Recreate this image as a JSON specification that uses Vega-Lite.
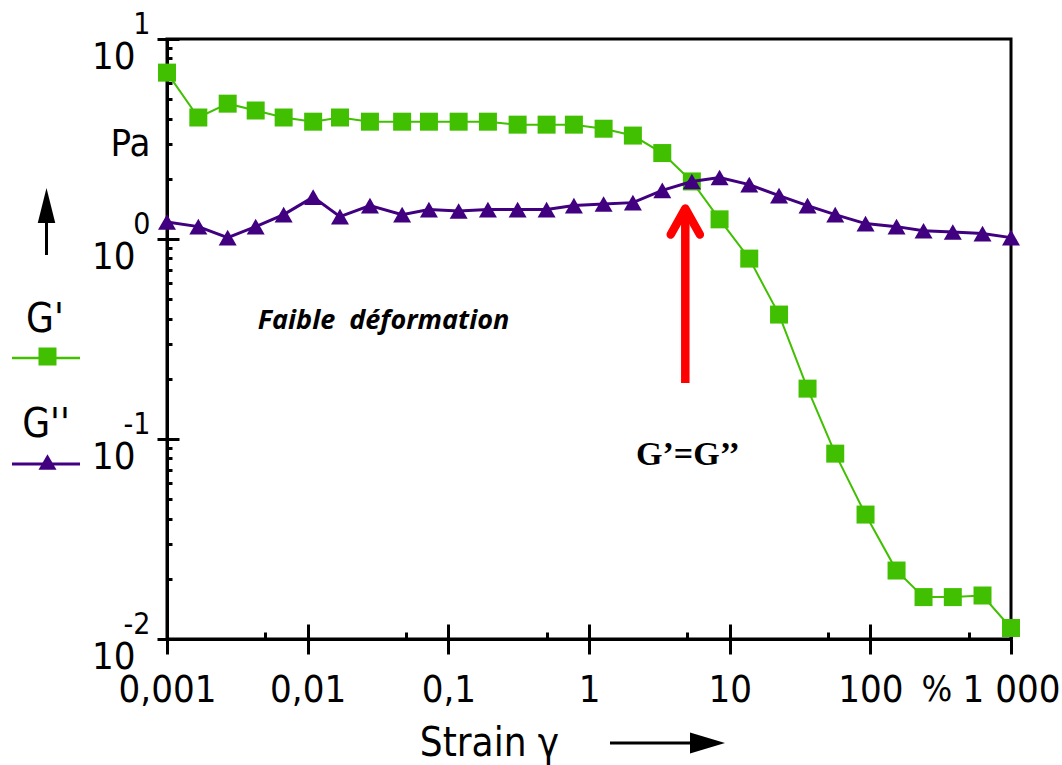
{
  "$schema": "https://vega.github.io/schema/vega-lite/v6.json",
  "autosize": {"type": "none"},
  "width": 844,
  "height": 600,
  "padding": {"left": 167, "top": 39, "right": 51, "bottom": 126},
  "background": "white",
  "datasets": {
    "gp": [
      {"strain": 0.001, "G": 6.79},
      {"strain": 0.00167, "G": 4.05},
      {"strain": 0.0027, "G": 4.75},
      {"strain": 0.00427, "G": 4.39},
      {"strain": 0.00675, "G": 4.05},
      {"strain": 0.01094, "G": 3.86},
      {"strain": 0.01697, "G": 4.05},
      {"strain": 0.02772, "G": 3.86},
      {"strain": 0.04694, "G": 3.86},
      {"strain": 0.07279, "G": 3.86},
      {"strain": 0.1184, "G": 3.86},
      {"strain": 0.1912, "G": 3.86},
      {"strain": 0.3109, "G": 3.73},
      {"strain": 0.4995, "G": 3.73},
      {"strain": 0.781, "G": 3.73},
      {"strain": 1.27, "G": 3.56},
      {"strain": 2.051, "G": 3.29},
      {"strain": 3.319, "G": 2.69},
      {"strain": 5.386, "G": 1.94},
      {"strain": 8.476, "G": 1.254},
      {"strain": 13.78, "G": 0.798},
      {"strain": 22.44, "G": 0.419},
      {"strain": 35.78, "G": 0.1786},
      {"strain": 56.3, "G": 0.0845},
      {"strain": 92.45, "G": 0.0419},
      {"strain": 153.6, "G": 0.022},
      {"strain": 238.9, "G": 0.0162},
      {"strain": 385.8, "G": 0.0162},
      {"strain": 627.3, "G": 0.0165},
      {"strain": 1000, "G": 0.01135}
    ],
    "gpp": [
      {"strain": 0.001, "G": 1.216},
      {"strain": 0.00167, "G": 1.153},
      {"strain": 0.0027, "G": 1.016},
      {"strain": 0.00427, "G": 1.153},
      {"strain": 0.00675, "G": 1.324},
      {"strain": 0.01094, "G": 1.62},
      {"strain": 0.01697, "G": 1.294},
      {"strain": 0.02772, "G": 1.469},
      {"strain": 0.04694, "G": 1.324},
      {"strain": 0.07279, "G": 1.403},
      {"strain": 0.1184, "G": 1.38},
      {"strain": 0.1912, "G": 1.403},
      {"strain": 0.3109, "G": 1.403},
      {"strain": 0.4995, "G": 1.403},
      {"strain": 0.781, "G": 1.469},
      {"strain": 1.27, "G": 1.496},
      {"strain": 2.051, "G": 1.52},
      {"strain": 3.319, "G": 1.75},
      {"strain": 5.386, "G": 1.94},
      {"strain": 8.476, "G": 2.03},
      {"strain": 13.78, "G": 1.87},
      {"strain": 22.44, "G": 1.648},
      {"strain": 35.78, "G": 1.469},
      {"strain": 56.3, "G": 1.324},
      {"strain": 92.45, "G": 1.194},
      {"strain": 153.6, "G": 1.153},
      {"strain": 238.9, "G": 1.1},
      {"strain": 385.8, "G": 1.084},
      {"strain": 627.3, "G": 1.064},
      {"strain": 1000, "G": 1.016}
    ],
    "one": [{}]
  },
  "config": {
    "view": {"stroke": "black", "strokeWidth": 3},
    "axis": {
      "grid": false,
      "domainColor": "black",
      "domainWidth": 3,
      "tickColor": "black",
      "tickWidth": 3,
      "labelColor": "black",
      "titleColor": "black",
      "labelFont": "'Liberation Sans Narrow', 'DejaVu Sans Condensed', 'Liberation Sans', sans-serif",
      "titleFont": "'Liberation Sans Narrow', 'DejaVu Sans Condensed', 'Liberation Sans', sans-serif",
      "labelOverlap": false,
      "labelFlush": false
    }
  },
  "resolve": {"axis": {"x": "independent", "y": "independent"}},
  "layer": [
    {
      "data": {"name": "gp"},
      "mark": {"type": "line", "color": "#40c000", "strokeWidth": 2},
      "encoding": {
        "x": {
          "field": "strain", "type": "quantitative",
          "scale": {"type": "log", "domain": [0.001, 1000]},
          "axis": {
            "orient": "bottom",
            "values": [0.001, 0.01, 0.1, 1, 10, 100, 1000],
            "tickSize": 15,
            "labelExpr": "datum.value >= 1000 ? '1 000' : replace(format(datum.value, '~g'), '.', ',')",
            "labelFontSize": 38,
            "labelBaseline": "alphabetic",
            "labelAlign": "center",
            "labelPadding": 47,
            "title": "Strain γ",
            "titleFontSize": 40,
            "titleFontWeight": "normal",
            "titleX": 322,
            "titleY": 116,
            "titleAlign": "center",
            "titleBaseline": "alphabetic"
          }
        },
        "y": {
          "field": "G", "type": "quantitative",
          "scale": {"type": "log", "domain": [0.01, 10]},
          "axis": {
            "orient": "left",
            "values": [0.01, 0.1, 1, 10],
            "tickSize": 10,
            "labelExpr": "datum.value >= 1 ? '10' : '10\u00a0'",
            "labelFontSize": 38,
            "labelAlign": "right",
            "labelBaseline": "alphabetic",
            "labelOffset": 29,
            "labelPadding": 22,
            "title": "Pa",
            "titleAngle": 0,
            "titleX": -37,
            "titleY": 116,
            "titleAlign": "center",
            "titleBaseline": "alphabetic",
            "titleFontSize": 38,
            "titleFontWeight": "normal"
          }
        }
      }
    },
    {
      "data": {"name": "gp"},
      "mark": {"type": "point", "shape": "square", "filled": true, "color": "#40c000", "size": 324, "opacity": 1},
      "encoding": {
        "x": {"field": "strain", "type": "quantitative",
          "axis": {"orient": "bottom", "values": [0.001, 0.01, 0.1, 1, 10, 100, 1000], "tickSize": -15, "labels": false, "domain": false, "title": null}},
        "y": {"field": "G", "type": "quantitative",
          "axis": {"orient": "left", "values": [0.01, 0.1, 1, 10], "tickSize": -12, "labels": false, "domain": false, "title": null}}
      }
    },
    {
      "data": {"name": "gpp"},
      "mark": {"type": "line", "color": "#400080", "strokeWidth": 3},
      "encoding": {
        "x": {"field": "strain", "type": "quantitative",
          "axis": {"orient": "bottom", "values": [0.005, 0.05, 0.5, 5, 50, 500], "tickSize": -7, "labels": false, "domain": false, "title": null}},
        "y": {"field": "G", "type": "quantitative",
          "axis": {"orient": "left", "values": [0.02, 0.03, 0.04, 0.05, 0.06, 0.07, 0.08, 0.09, 0.2, 0.3, 0.4, 0.5, 0.6, 0.7, 0.8, 0.9, 2, 3, 4, 5, 6, 7, 8, 9], "tickSize": -5, "labels": false, "domain": false, "title": null}}
      }
    },
    {
      "data": {"name": "gpp"},
      "mark": {"type": "point", "shape": "triangle-up", "filled": true, "color": "#400080", "size": 324, "opacity": 1},
      "encoding": {
        "x": {"field": "strain", "type": "quantitative", "axis": null},
        "y": {"field": "G", "type": "quantitative",
          "axis": {
            "orient": "left",
            "values": [0.01, 0.1, 1, 10],
            "ticks": false,
            "tickSize": 0,
            "domain": false,
            "labelExpr": "datum.value >= 10 ? '1' : datum.value >= 1 ? '0' : datum.value >= 0.1 ? '-1' : '-2'",
            "labelFontSize": 30,
            "labelAlign": "right",
            "labelBaseline": "alphabetic",
            "labelOffset": -6,
            "labelPadding": 17,
            "title": null
          }
        }
      }
    },
    {
      "data": {"name": "one"},
      "mark": {"type": "text", "text": "G'", "font": "'Liberation Sans Narrow', 'DejaVu Sans Condensed', 'Liberation Sans', sans-serif", "fontSize": 40, "align": "center", "baseline": "alphabetic", "color": "black"},
      "encoding": {
        "x": {"datum": 0.0001357, "type": "quantitative", "axis": null},
        "y": {"datum": 0.3428, "type": "quantitative", "axis": null}
      }
    },
    {
      "data": {"name": "one"},
      "mark": {"type": "rule", "color": "#40c000", "strokeWidth": 2.5},
      "encoding": {
        "x": {"datum": 0.0000791, "type": "quantitative", "axis": null},
        "x2": {"datum": 0.0002407},
        "y": {"datum": 0.2541, "type": "quantitative", "axis": null}
      }
    },
    {
      "data": {"name": "one"},
      "mark": {"type": "point", "shape": "square", "filled": true, "color": "#40c000", "size": 324, "opacity": 1},
      "encoding": {
        "x": {"datum": 0.0001414, "type": "quantitative", "axis": null},
        "y": {"datum": 0.2585, "type": "quantitative", "axis": null}
      }
    },
    {
      "data": {"name": "one"},
      "mark": {"type": "text", "text": "G''", "font": "'Liberation Sans Narrow', 'DejaVu Sans Condensed', 'Liberation Sans', sans-serif", "fontSize": 40, "align": "center", "baseline": "alphabetic", "color": "black"},
      "encoding": {
        "x": {"datum": 0.0001379, "type": "quantitative", "axis": null},
        "y": {"datum": 0.1023, "type": "quantitative", "axis": null}
      }
    },
    {
      "data": {"name": "one"},
      "mark": {"type": "rule", "color": "#400080", "strokeWidth": 3},
      "encoding": {
        "x": {"datum": 0.0000791, "type": "quantitative", "axis": null},
        "x2": {"datum": 0.0002407},
        "y": {"datum": 0.07499, "type": "quantitative", "axis": null}
      }
    },
    {
      "data": {"name": "one"},
      "mark": {"type": "point", "shape": "triangle-up", "filled": true, "color": "#400080", "size": 324, "opacity": 1},
      "encoding": {
        "x": {"datum": 0.0001414, "type": "quantitative", "axis": null},
        "y": {"datum": 0.07674, "type": "quantitative", "axis": null}
      }
    },
    {
      "data": {"name": "one"},
      "mark": {"type": "text", "text": "%", "font": "'Liberation Sans Narrow', 'DejaVu Sans Condensed', 'Liberation Sans', sans-serif", "fontSize": 36, "align": "center", "baseline": "alphabetic", "color": "black"},
      "encoding": {
        "x": {"datum": 297.8, "type": "quantitative", "axis": null},
        "y": {"datum": 0.004898, "type": "quantitative", "axis": null}
      }
    },
    {
      "data": {"name": "one"},
      "mark": {"type": "text", "text": "Faible\u00a0 déformation", "font": "Open Sans", "fontSize": 27, "fontStyle": "italic", "fontWeight": "bold", "align": "center", "baseline": "alphabetic", "color": "black"},
      "encoding": {
        "x": {"datum": 0.03459, "type": "quantitative", "axis": null},
        "y": {"datum": 0.3548, "type": "quantitative", "axis": null}
      }
    },
    {
      "data": {"name": "one"},
      "mark": {"type": "text", "text": "G’=G’’", "font": "Liberation Serif", "fontSize": 34, "fontWeight": "bold", "align": "center", "baseline": "alphabetic", "color": "black"},
      "encoding": {
        "x": {"datum": 5.05, "type": "quantitative", "axis": null},
        "y": {"datum": 0.07413, "type": "quantitative", "axis": null}
      }
    },
    {
      "data": {"name": "one"},
      "mark": {"type": "rule", "color": "#ff0000", "strokeWidth": 8.5},
      "encoding": {
        "x": {"datum": 4.837, "type": "quantitative", "axis": null},
        "y": {"datum": 0.1905, "type": "quantitative", "axis": null},
        "y2": {"datum": 1.4}
      }
    },
    {
      "data": {"name": "one"},
      "mark": {"type": "point", "shape": "M-0.56,1L0,0L0.56,1", "filled": false, "stroke": "#ff0000", "strokeWidth": 8.5, "strokeCap": "round", "strokeJoin": "round", "size": 2704, "opacity": 1},
      "encoding": {
        "x": {"datum": 4.837, "type": "quantitative", "axis": null},
        "y": {"datum": 1.42, "type": "quantitative", "axis": null}
      }
    },
    {
      "data": {"name": "one"},
      "mark": {"type": "rule", "color": "black", "strokeWidth": 3},
      "encoding": {
        "x": {"datum": 0.0001391, "type": "quantitative", "axis": null},
        "y": {"datum": 0.832, "type": "quantitative", "axis": null},
        "y2": {"datum": 1.47}
      }
    },
    {
      "data": {"name": "one"},
      "mark": {"type": "point", "shape": "M0,-1L0.5,1L-0.5,1Z", "filled": true, "color": "black", "size": 1225, "opacity": 1},
      "encoding": {
        "x": {"datum": 0.0001391, "type": "quantitative", "axis": null},
        "y": {"datum": 1.4707, "type": "quantitative", "axis": null}
      }
    },
    {
      "data": {"name": "one"},
      "mark": {"type": "rule", "color": "black", "strokeWidth": 3},
      "encoding": {
        "x": {"datum": 1.41, "type": "quantitative", "axis": null},
        "x2": {"datum": 6.96},
        "y": {"datum": 0.00302, "type": "quantitative", "axis": null}
      }
    },
    {
      "data": {"name": "one"},
      "mark": {"type": "point", "shape": "M1,0L-1,-0.6L-1,0.6Z", "filled": true, "color": "black", "size": 1225, "opacity": 1},
      "encoding": {
        "x": {"datum": 6.957, "type": "quantitative", "axis": null},
        "y": {"datum": 0.00302, "type": "quantitative", "axis": null}
      }
    }
  ]
}
